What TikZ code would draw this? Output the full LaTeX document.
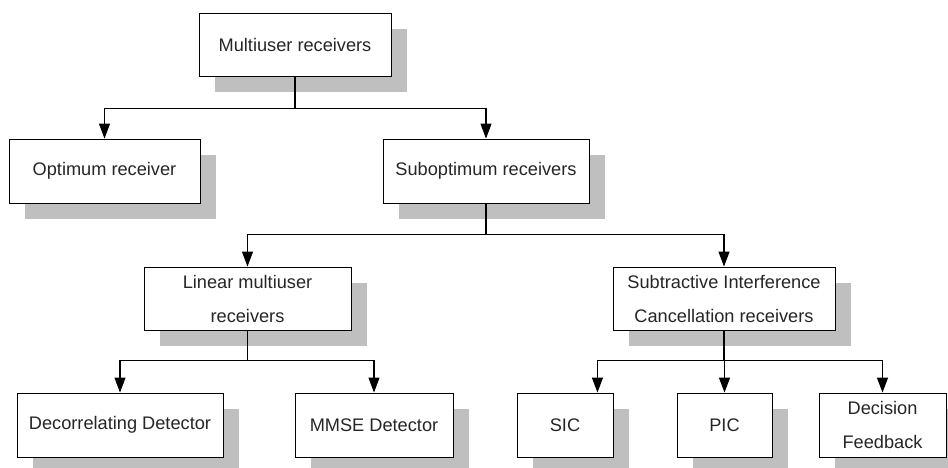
\documentclass[tikz,border=0pt]{standalone}
\usepackage{fontspec}
\setmainfont{Liberation Sans}
\usetikzlibrary{arrows.meta,shadows}
\definecolor{shadowgray}{HTML}{BFBFBF}
\definecolor{inkgray}{HTML}{262626}

\begin{document}
\begin{tikzpicture}[x=1pt,y=-1pt,
  box/.style={draw=black, line width=0.9pt, fill=white, inner sep=0pt,
    align=center, text=inkgray, font=\fontsize{18.2}{34}\selectfont,
    drop shadow={fill=shadowgray, opacity=1,
      shadow xshift=16pt, shadow yshift=-16pt}},
  link/.style={line width=1.2pt, draw=black},
  arr/.style={link, -{Triangle[length=15pt,width=11pt]}}]

  % canvas
  \useasboundingbox (0,0) rectangle (948,468);
  \clip (0,0) rectangle (948,468);
  \fill[white] (0,0) rectangle (948,468);

  % level 0
  \node[box, minimum width=192pt, minimum height=63pt] (mur) at (295,44.5)
    {Multiuser receivers};

  % level 1
  \node[box, minimum width=191pt, minimum height=64pt] (opt) at (104.5,171)
    {Optimum receiver};
  \node[box, minimum width=206pt, minimum height=64pt] (sub) at (486,171)
    {Suboptimum receivers};

  % level 2
  \node[box, minimum width=207pt, minimum height=63pt] (lin) at (247.5,298.5)
    {Linear multiuser\\receivers};
  \node[box, minimum width=222pt, minimum height=63pt] (sicr) at (724,298.5)
    {Subtractive Interference\\Cancellation receivers};

  % level 3
  \node[box, minimum width=206pt, minimum height=64pt] (dec) at (120,425)
    {Decorrelating Detector};
  \node[box, minimum width=158pt, minimum height=64pt] (mmse) at (374,425)
    {MMSE Detector};
  \node[box, minimum width=96pt, minimum height=64pt] (sic) at (565,425)
    {SIC};
  \node[box, minimum width=95pt, minimum height=64pt] (pic) at (724.5,425)
    {PIC};
  \node[box, minimum width=127pt, minimum height=64pt] (df) at (882.5,425)
    {Decision\\Feedback};

  % connectors
  \draw[arr] (mur.south) -- ++(0,32) -| (opt.north);
  \draw[arr] (mur.south) -- ++(0,32) -| (sub.north);

  \draw[arr] (sub.south) -- ++(0,31) -| (lin.north);
  \draw[arr] (sub.south) -- ++(0,31) -| (sicr.north);

  \draw[arr] (lin.south) -- ++(0,30) -| (dec.north);
  \draw[arr] (lin.south) -- ++(0,30) -| (mmse.north);

  \draw[arr] (sicr.south) -- ++(0,30) -| ([xshift=-16pt]sic.north east);
  \draw[arr] (sicr.south) -- ++(0,30) -| (pic.north);
  \draw[arr] (sicr.south) -- ++(0,30) -| (df.north);
\end{tikzpicture}
\end{document}
